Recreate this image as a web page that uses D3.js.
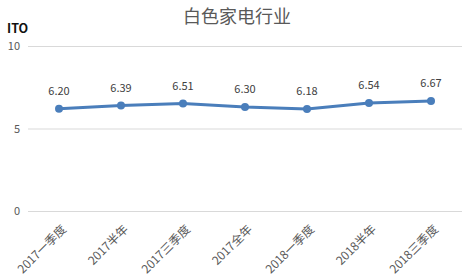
<!DOCTYPE html>
<html><head><meta charset="utf-8">
<script src="https://cdn.jsdelivr.net/npm/d3@7"></script>
<style>body{margin:0;background:#fff}text{font-family:"Microsoft YaHei","Noto Sans CJK SC",sans-serif}</style>
</head><body><svg id="c" width="474" height="280"></svg>
<script>
const categories = ["2017一季度","2017半年","2017三季度","2017全年","2018一季度","2018半年","2018三季度"];
const values = [6.20,6.39,6.51,6.30,6.18,6.54,6.67];
const yTicks = [0,5,10];
const title = "白色家电行业";
const yTitle = "ITO";

const svg = d3.select("#c");
const x = d3.scaleBand().domain(categories).range([28,462]);
const y = d3.scaleLinear().domain([0,10]).range([211,46]);

svg.append("text").attr("x",237).attr("y",23).attr("text-anchor","middle")
  .attr("font-size",18).attr("fill","#595959").text(title);
svg.append("text").attr("x",7).attr("y",33).attr("font-size",12.5).attr("font-weight","bold").attr("fill","#111").text(yTitle);

const gy = svg.append("g").attr("transform","translate(28,0)")
  .call(d3.axisLeft(y).tickValues(yTicks).tickSize(-434).tickFormat(d3.format("d")));
gy.select(".domain").remove();
gy.selectAll("line").attr("stroke","#d9d9d9");
gy.selectAll("text").attr("fill","#595959").attr("font-size",11).attr("x",-8);

const gx = svg.append("g").attr("transform","translate(0,211)")
  .call(d3.axisBottom(x).tickSize(0));
gx.select(".domain").remove();
gx.selectAll("text").attr("fill","#595959").attr("font-size",12)
  .attr("text-anchor","end").attr("x",0).attr("y",0).attr("dy","0.35em")
  .attr("transform","translate(5,16) rotate(-45)");

const cx = d => x(d) + x.bandwidth()/2;
svg.append("path").datum(values).attr("fill","none").attr("stroke","#4a7ebb").attr("stroke-width",3)
  .attr("d", d3.line().x((d,i)=>cx(categories[i])).y(d=>y(d)));
svg.selectAll("circle.p").data(values).enter().append("circle")
  .attr("cx",(d,i)=>cx(categories[i])).attr("cy",d=>y(d)).attr("r",4).attr("fill","#4a7ebb");
svg.selectAll("text.lbl").data(values).enter().append("text")
  .attr("x",(d,i)=>cx(categories[i])).attr("y",d=>y(d)-14).attr("text-anchor","middle")
  .attr("font-size",11).attr("fill","#404040").text(d=>d.toFixed(2));
</script></body></html>
